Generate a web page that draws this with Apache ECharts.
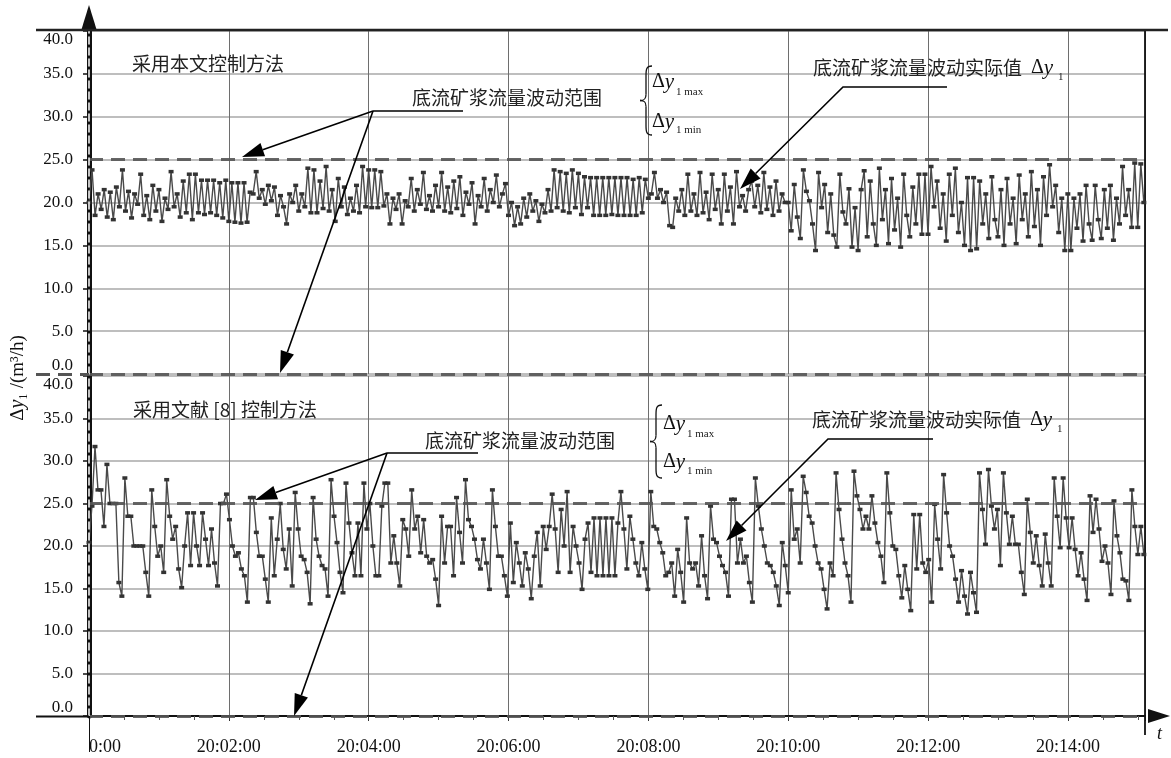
<!DOCTYPE html>
<html><head><meta charset="utf-8">
<script src="https://cdn.jsdelivr.net/npm/echarts@6/dist/echarts.min.js"></script>
<style>html,body{margin:0;padding:0;background:#fff}#c{width:1171px;height:758px}</style>
</head><body><div id="c"></div>
<script>
// ---- data ----
const upperValues = [
 20.0,23.8,18.5,21.0,19.2,21.5,18.3,21.2,18.0,21.8,19.5,23.8,19.0,21.3,18.2,21.0,19.8,23.3,18.5,20.8,18.0,22.0,19.0,
 21.5,17.8,20.5,19.2,23.6,19.5,21.0,18.3,22.5,18.8,23.3,18.0,23.3,18.8,22.6,18.6,22.6,18.8,22.6,18.5,22.3,18.2,22.6,
 17.8,22.3,17.7,22.3,17.6,22.3,17.7,21.2,21.0,23.6,20.5,21.5,19.8,22.0,20.2,21.8,18.5,20.8,19.5,17.5,21.0,20.0,22.0,
 19.0,21.0,19.5,24.0,18.8,23.8,18.8,22.5,19.3,24.2,19.0,21.5,17.8,22.8,19.5,21.8,18.6,20.5,19.0,22.0,18.8,24.2,19.5,
 23.8,19.4,23.8,19.4,23.6,19.6,21.0,17.5,20.5,19.2,21.0,17.5,20.2,19.5,22.8,19.0,21.5,19.8,23.5,19.2,20.8,19.0,22.0,
 19.5,23.5,19.0,21.8,18.8,22.5,19.3,23.0,18.5,21.2,19.8,22.3,17.5,20.8,19.5,22.8,19.0,21.5,20.0,23.2,19.5,21.0,22.2,
 18.5,20.0,17.3,19.5,17.5,20.5,18.3,21.0,19.0,20.2,17.8,19.8,18.8,21.5,19.0,23.8,19.4,23.6,19.0,23.4,18.8,23.8,19.4,
 23.4,18.6,23.0,19.4,22.9,18.5,22.9,18.5,22.9,18.5,22.9,18.6,22.9,18.5,22.9,18.5,22.9,18.5,22.7,18.5,22.9,18.8,22.7,
 20.5,21.0,23.5,20.5,21.5,20.0,21.2,17.3,17.1,20.5,19.0,21.5,18.5,23.3,19.0,21.0,18.5,23.5,18.8,21.2,18.0,23.3,19.2,
 21.5,17.5,23.3,19.0,21.8,17.5,23.6,19.5,20.8,19.0,21.5,22.5,19.5,22.0,18.8,23.5,19.2,21.8,18.5,22.5,19.0,21.0,20.0,
 20.0,16.7,22.1,18.3,15.8,23.8,21.3,20.2,17.5,14.4,23.5,19.4,22.1,16.5,21.0,16.2,14.8,23.3,18.9,17.5,21.6,14.8,19.4,
 14.4,21.5,23.7,16.0,22.5,17.5,15.0,24.0,18.0,21.5,15.2,22.8,16.8,20.5,14.8,23.3,18.5,16.0,21.8,17.5,23.3,16.3,23.3,
 16.3,24.2,19.5,22.5,17.0,21.0,15.5,23.3,18.5,24.0,16.5,20.0,15.0,22.9,14.4,22.9,14.6,22.5,17.5,21.0,15.8,23.0,18.0,
 16.0,21.5,15.0,22.8,17.5,20.5,15.2,23.2,18.0,21.0,16.0,23.6,17.2,21.5,15.0,23.0,18.5,24.4,19.5,22.0,16.5,20.5,14.4,
 21.0,14.4,20.5,17.0,21.0,15.5,22.0,17.5,15.6,22.0,18.0,15.8,21.5,17.0,22.0,15.6,20.5,17.5,24.2,18.5,21.5,17.1,24.6,
 17.1,24.5,20.0
];
const lowerValues = [
 20.4,24.7,31.7,26.6,26.6,22.3,29.6,25,25,25,15.7,14.1,28,23.5,23.5,20,20,20,20,16.9,14.1,26.6,22.3,18.8,20,16.9,
 27.8,23.5,20.8,22.3,17.3,15.1,20,23.9,17.7,23.9,20,17.7,23.9,20.8,17.7,22,18,15.3,25,25,26.1,23.1,20,18.8,19.2,17.3,16.5,13.4,
 25.7,25.7,21.6,18.8,18.8,16.1,13.4,23.3,16.5,20.8,25,19.6,17.3,22,15.3,26.3,22,18.8,18.4,16.9,13.2,25.7,20.8,18.8,17.7,17.3,14.1,
 27.8,23.5,20.4,16.9,14.5,27.4,22.7,19.2,16.5,22.7,16.5,27.4,22,25,20,16.5,16.5,24.7,27.4,27.4,18,21.2,18,15.3,23.1,22,18.8,
 26.6,22,23.5,19.2,23.1,18.8,18,18.4,16.1,13,23.5,18,22.3,22.3,16.5,25.7,21.6,18,27.8,23.1,22.3,20.8,18.4,17.3,20.8,
 18,14.9,26.6,22.3,18.8,18.8,16.5,14.1,22.7,15.7,20.4,18,15.3,19.2,17.3,13.8,18.8,21.6,15.3,22.3,19.6,22.3,26.1,22,16.9,24.3,20,26.4,16.9,22.3,20,18,14.9,
 20.8,22.7,16.9,23.3,16.5,23.3,16.5,23.3,16.5,23.3,16.5,22.7,26.4,22,17.3,23.5,20.8,18,16.5,20.4,17.3,14.9,26.4,22.3,22,20.4,19.2,16.5,16.9,18,14.1,19.6,16.9,13.4,
 23.3,18,17.3,18,15.3,21.2,16.5,13.8,24.7,20.8,20.4,18.8,17.7,16.9,14.1,25.5,25.5,18,20.8,18,18.8,15.7,13.4,
 28,24.7,22,20,18,17.7,16.9,15.3,13,20.4,17.7,14.5,26.6,20.8,22,18,28.2,26.3,23.5,22.7,20,18,17.3,14.9,12.6,18,16.5,
 28.6,24.3,20.8,18,16.5,13.4,28.8,25.9,24.3,22,23.5,22,25.9,22.7,20.4,18.8,15.7,
 28.6,23.9,20,19.6,16.5,13.9,17.7,14.9,12.4,23.7,17.3,23.7,18,16.9,18.4,13.4,24.9,20.8,17.3,28.4,23.9,20,18.8,16.1,13.4,17.1,14.1,12,16.9,14.5,12.2,
 28.6,24.3,20.2,29,24.7,22,24.3,17.7,28.6,23.9,20.2,23.5,20.2,20.2,16.9,14.3,25.5,21.6,18,21.2,17.7,15.3,21.4,18,15.3,28,23.5,19.8,28,23.3,19.8,23.3,19.6,16.5,19.2,16.1,13.6,
 25.9,21.6,25.5,22,18.2,20,18,14.3,25.3,21.2,19.2,16.1,15.9,13.6,26.6,22.3,19,22.3,19
];
const timeLabels = ['0:00','20:02:00','20:04:00','20:06:00','20:08:00','20:10:00','20:12:00','20:14:00'];
const limitLines = [25, 0];
const upperTitle = '采用本文控制方法';
const lowerTitle = '采用文献 [8] 控制方法';
const rangeText = '底流矿浆流量波动范围';
const actualText = '底流矿浆流量波动实际值';

// ---- scale settings ----
const Y_MIN = 0, Y_MAX = 40, Y_STEP = 5;
const X_MIN = 0, X_MAX = 906, X_STEP = 120, SPAN = 905;

const toPoints = vals => vals.map((v, i) => [i * SPAN / (vals.length - 1), v]);

const SERIF = '"Liberation Serif","DejaVu Serif",serif';
const CJK = '"Noto Sans CJK SC",sans-serif';

const chart = echarts.init(document.getElementById('c'), null, {renderer: 'canvas'});

const grids = [
  {left: 89, right: 26, top: 31, height: 343},
  {left: 89, right: 26, top: 376, height: 340}
];

function xAxisFor(idx, showLabels) {
  return {
    type: 'value', gridIndex: idx, min: X_MIN, max: X_MAX, interval: X_STEP,
    axisLine: showLabels ? {show: true, symbol: ['none', 'triangle'], symbolSize: [14, 22], symbolOffset: [0, 14],
      lineStyle: {color: '#111', width: 2}} : {show: false},
    axisTick: {show: showLabels, length: 5, lineStyle: {color: '#333'}},
    minorTick: {show: showLabels, splitNumber: 4, length: 4, lineStyle: {color: '#555'}},
    axisLabel: {show: showLabels, margin: 22, color: '#111', fontFamily: SERIF, fontSize: 18,
      alignMinLabel: 'left',
      formatter: v => (v % X_STEP === 0 && v / X_STEP < timeLabels.length) ? timeLabels[v / X_STEP] : ''},
    splitLine: {show: true, lineStyle: {color: '#6e6e6e', width: 1}}
  };
}
function yAxisMain(idx, arrow) {
  return {
    type: 'value', gridIndex: idx, min: Y_MIN, max: Y_MAX, interval: Y_STEP,
    axisLine: {show: true, symbol: arrow ? ['none', 'triangle'] : 'none', symbolSize: [16, 26], symbolOffset: [0, 13],
      lineStyle: {color: '#111', width: 5}},
    axisTick: {show: true, length: 6, lineStyle: {color: '#111', width: 1.5}},
    axisLabel: {margin: 16, color: '#111', fontFamily: SERIF, fontSize: 17,
      verticalAlignMinLabel: 'bottom', verticalAlignMaxLabel: 'top',
      formatter: v => v.toFixed(1)},
    splitLine: {show: true, lineStyle: {color: '#a8a8a8', width: 1.5}}
  };
}
function yAxisOverlay(idx) {
  return {
    type: 'value', gridIndex: idx, min: Y_MIN, max: Y_MAX, interval: Y_STEP, position: 'left',
    axisLine: {show: true, lineStyle: {color: '#fff', width: 1.5, type: [7, 4]}},
    axisTick: {show: false}, axisLabel: {show: false}, splitLine: {show: false}, z: 5
  };
}
function yAxisRight(idx) {
  return {
    type: 'value', gridIndex: idx, min: Y_MIN, max: Y_MAX, interval: Y_STEP, position: 'right',
    axisLine: {show: true, lineStyle: {color: '#111', width: 1.8}},
    axisTick: {show: false}, axisLabel: {show: false}, splitLine: {show: false}
  };
}

function seriesFor(vals, idx) {
  return {
    type: 'line', xAxisIndex: idx, yAxisIndex: idx * 3, data: toPoints(vals),
    symbol: 'rect', symbolSize: [5, 3.5], showSymbol: true, showAllSymbol: true,
    lineStyle: {color: '#4a4a4a', width: 1.4},
    itemStyle: {color: '#333'},
    animation: false, silent: true, z: 3,
    markLine: {
      silent: true, symbol: 'none', label: {show: false},
      lineStyle: {type: [14, 8], color: '#555', width: 3, opacity: 0.9},
      data: limitLines.map(v => ({yAxis: v}))
    }
  };
}

function arrow(pts, headLen = 22, headHalf = 7) {
  const n = pts.length;
  const [x2, y2] = pts[n - 1], [x1, y1] = pts[n - 2];
  const dx = x2 - x1, dy = y2 - y1, L = Math.hypot(dx, dy), ux = dx / L, uy = dy / L;
  const bx = x2 - ux * headLen, by = y2 - uy * headLen, px = -uy, py = ux;
  return [
    {type: 'polyline', z: 100, shape: {points: pts.slice(0, n - 1).concat([[bx, by]])},
      style: {stroke: '#000', lineWidth: 1.6, fill: null}},
    {type: 'polygon', z: 100, shape: {points: [[x2, y2], [bx + px * headHalf, by + py * headHalf], [bx - px * headHalf, by - py * headHalf]]},
      style: {fill: '#000'}}
  ];
}
function txt(x, y, text, size, font, extra) {
  return Object.assign({type: 'text', z: 100, x: x, y: y,
    style: {text: text, fontSize: size, fontFamily: font, fill: '#222', verticalAlign: 'middle', align: 'left'}}, extra || {});
}
function dy(x, y) {
  return {type: 'text', z: 100, x: x, y: y,
    style: {text: '{a|Δ}{b|y}', verticalAlign: 'middle', align: 'left',
      rich: {a: {fontSize: 20, fontFamily: SERIF, fill: '#111'}, b: {fontSize: 21, fontFamily: SERIF, fontStyle: 'italic', fill: '#111'}}}};
}
function brace(x, y, h) {
  const m = h / 2, st = {stroke: '#111', lineWidth: 1.3, fill: null};
  const bz = (x1, y1, c1x, c1y, c2x, c2y, x2, y2) => ({type: 'bezierCurve', z: 100,
    shape: {x1: x + x1, y1: y + y1, cpx1: x + c1x, cpy1: y + c1y, cpx2: x + c2x, cpy2: y + c2y, x2: x + x2, y2: y + y2}, style: st});
  const ln = (x1, y1, x2, y2) => ({type: 'line', z: 100, shape: {x1: x + x1, y1: y + y1, x2: x + x2, y2: y + y2}, style: st});
  return [
    bz(12, 0, 6, 0, 6, 4, 6, 10), ln(6, 10, 6, m - 6),
    bz(6, m - 6, 6, m - 1, 4, m, 0, m), bz(0, m, 4, m, 6, m + 1, 6, m + 6),
    ln(6, m + 6, 6, h - 10), bz(6, h - 10, 6, h - 4, 6, h, 12, h)
  ];
}

const graphics = [
  {type: 'line', z: 90, shape: {x1: 36, y1: 30, x2: 1168, y2: 30}, style: {stroke: '#222', lineWidth: 2.5}},
  {type: 'line', z: 90, shape: {x1: 36, y1: 374.5, x2: 89, y2: 374.5}, style: {stroke: '#555', lineWidth: 3, lineDash: [14, 8]}},
  {type: 'line', z: 90, shape: {x1: 36, y1: 716.5, x2: 89, y2: 716.5}, style: {stroke: '#111', lineWidth: 2}},
  {type: 'line', z: 90, shape: {x1: 89.5, y1: 716, x2: 89.5, y2: 752}, style: {stroke: '#111', lineWidth: 1}},
  {type: 'line', z: 90, shape: {x1: 1145, y1: 716, x2: 1145, y2: 735}, style: {stroke: '#111', lineWidth: 1.8}},
  {type: 'text', z: 100, x: 1157, y: 734, style: {text: 't', fontSize: 18, fontFamily: SERIF, fontStyle: 'italic', fill: '#111', verticalAlign: 'middle'}},
  // y axis name
  {type: 'text', z: 100, x: 18, y: 378, rotation: Math.PI / 2,
    style: {text: '{a|Δ}{b|y}{a|₁ /(m³/h)}', align: 'center', verticalAlign: 'middle',
      rich: {a: {fontSize: 19, fontFamily: SERIF, fill: '#111'}, b: {fontSize: 20, fontFamily: SERIF, fontStyle: 'italic', fill: '#111'}}}},
  // upper panel annotations
  txt(132, 64, upperTitle, 19, CJK),
  txt(412, 98, rangeText, 19, CJK),
  {type: 'line', z: 100, shape: {x1: 373, y1: 111, x2: 463, y2: 111}, style: {stroke: '#000', lineWidth: 1.6}},
  ...arrow([[373, 111], [242, 157]]),
  ...arrow([[373, 111], [280, 373]]),
  ...brace(640, 66, 69),
  dy(652, 82), txt(676, 92, '1 max', 11, SERIF),
  dy(652, 122), txt(676, 130, '1 min', 11, SERIF),
  txt(813, 68, actualText, 19, CJK),
  dy(1031, 68), txt(1058, 77, '1', 11, SERIF),
  ...arrow([[947, 87], [843, 87], [740, 189]]),
  // lower panel annotations
  txt(133, 410, lowerTitle, 19, CJK),
  txt(425, 441, rangeText, 19, CJK),
  {type: 'line', z: 100, shape: {x1: 387, y1: 453, x2: 478, y2: 453}, style: {stroke: '#000', lineWidth: 1.6}},
  ...arrow([[387, 453], [255, 500]]),
  ...arrow([[387, 453], [294, 716]]),
  ...brace(650, 405, 73),
  dy(663, 424), txt(687, 434, '1 max', 11, SERIF),
  dy(663, 462), txt(687, 471, '1 min', 11, SERIF),
  txt(812, 420, actualText, 19, CJK),
  dy(1030, 420), txt(1057, 429, '1', 11, SERIF),
  ...arrow([[933, 439], [828, 439], [726, 541]])
];

chart.setOption({
  animation: false,
  backgroundColor: '#fff',
  grid: grids,
  xAxis: [xAxisFor(0, false), xAxisFor(1, true)],
  yAxis: [yAxisMain(0, true), yAxisOverlay(0), yAxisRight(0), yAxisMain(1, false), yAxisOverlay(1), yAxisRight(1)],
  series: [seriesFor(upperValues, 0), seriesFor(lowerValues, 1)],
  graphic: graphics
});
</script></body></html>
